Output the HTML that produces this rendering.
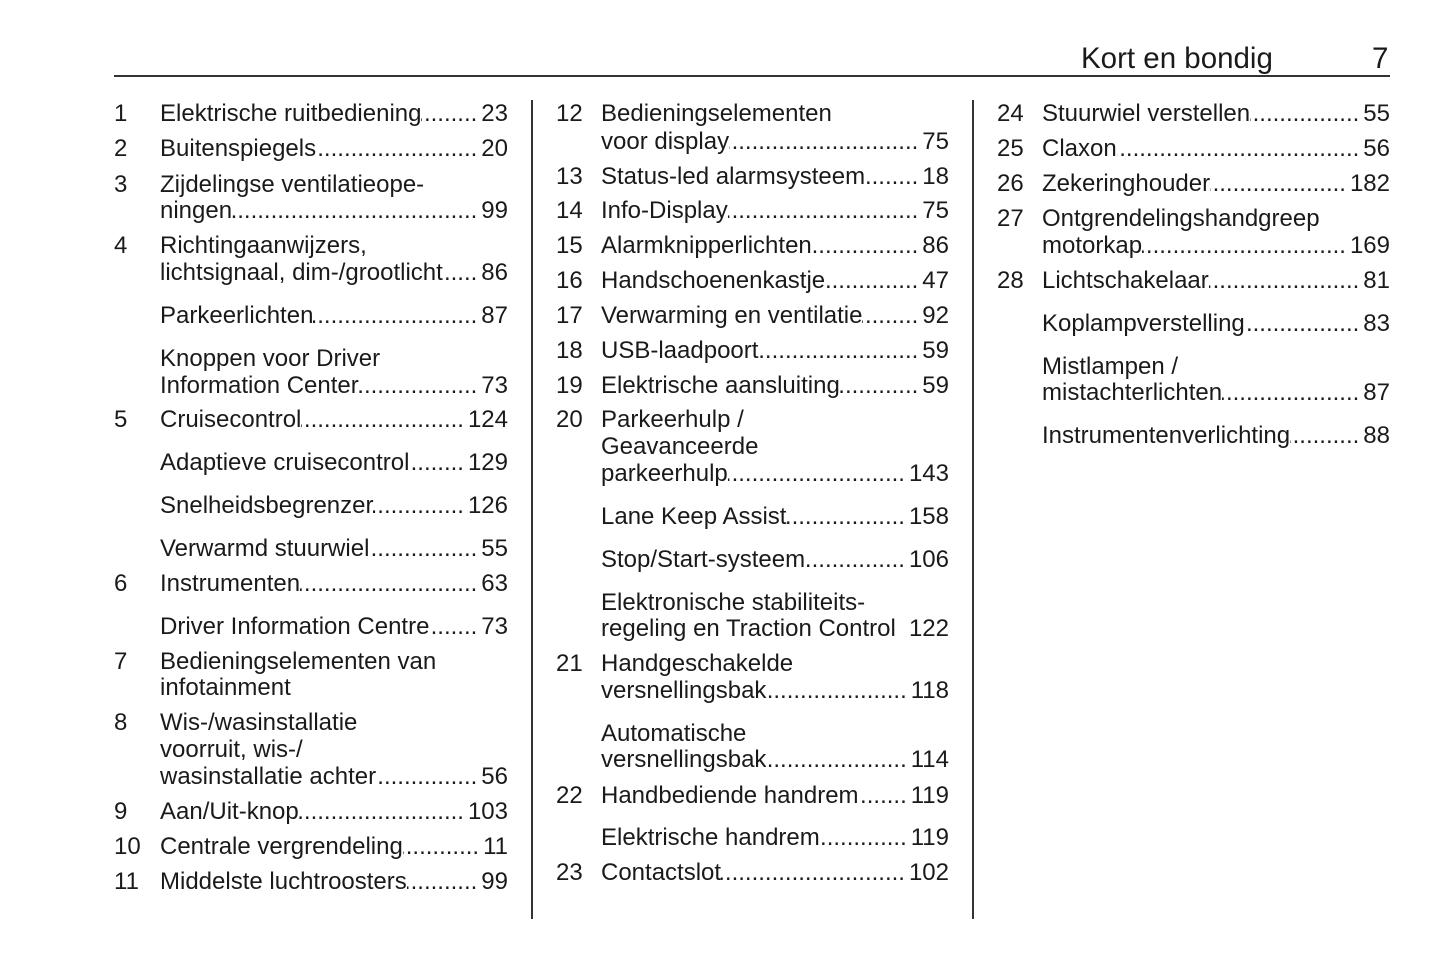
<!DOCTYPE html>
<html><head><meta charset="utf-8"><style>
body{margin:0;width:1445px;height:965px;background:#fff;position:relative;overflow:hidden;font-family:"Liberation Sans",Arial,sans-serif;color:#1a1a1a;font-size:24px}
.l{position:absolute;height:28px;line-height:30px;display:flex;white-space:nowrap}
.c1{left:160px;width:348px}.c2{left:601px;width:348px}.c3{left:1042px;width:348px}
.n{position:absolute;height:28px;line-height:30px}
.n1{left:114px}.n2{left:556px}.n3{left:997px}
.d{flex:1;overflow:hidden;padding:0 4px 0 9px;direction:rtl}
.d::before{content:"....................................................................................................................";}
.vl{position:absolute;top:100px;height:819px;width:2px;background:#333}
</style></head><body>
<div style="position:absolute;left:1081px;top:41px;font-size:29.5px;line-height:36px">Kort en bondig</div>
<div style="position:absolute;left:1372px;top:41px;font-size:29.5px;line-height:36px">7</div>
<div style="position:absolute;left:114px;top:75px;width:1276px;height:2px;background:#333"></div>
<div class="vl" style="left:531px"></div><div class="vl" style="left:972px"></div>

<div class="n n1" style="top:99px">1</div><div class="l c1" style="top:99px"><span>Elektrische ruitbediening</span><span class="d"></span><span>23</span></div>
<div class="n n1" style="top:134px">2</div><div class="l c1" style="top:134px"><span>Buitenspiegels</span><span class="d"></span><span>20</span></div>
<div class="n n1" style="top:170px">3</div><div class="l c1" style="top:170px"><span>Zijdelingse ventilatieope-</span></div>
<div class="l c1" style="top:196px"><span>ningen</span><span class="d"></span><span>99</span></div>
<div class="n n1" style="top:231px">4</div><div class="l c1" style="top:231px"><span>Richtingaanwijzers,</span></div>
<div class="l c1" style="top:258px"><span>lichtsignaal, dim-/grootlicht</span><span class="d"></span><span>86</span></div>
<div class="l c1" style="top:301px"><span>Parkeerlichten</span><span class="d"></span><span>87</span></div>
<div class="l c1" style="top:344px"><span>Knoppen voor Driver</span></div>
<div class="l c1" style="top:371px"><span>Information Center</span><span class="d"></span><span>73</span></div>
<div class="n n1" style="top:405px">5</div><div class="l c1" style="top:405px"><span>Cruisecontrol</span><span class="d"></span><span>124</span></div>
<div class="l c1" style="top:448px"><span>Adaptieve cruisecontrol</span><span class="d"></span><span>129</span></div>
<div class="l c1" style="top:491px"><span>Snelheidsbegrenzer</span><span class="d"></span><span>126</span></div>
<div class="l c1" style="top:534px"><span>Verwarmd stuurwiel</span><span class="d"></span><span>55</span></div>
<div class="n n1" style="top:569px">6</div><div class="l c1" style="top:569px"><span>Instrumenten</span><span class="d"></span><span>63</span></div>
<div class="l c1" style="top:612px"><span>Driver Information Centre</span><span class="d"></span><span>73</span></div>
<div class="n n1" style="top:647px">7</div><div class="l c1" style="top:647px"><span>Bedieningselementen van</span></div>
<div class="l c1" style="top:673px"><span>infotainment</span></div>
<div class="n n1" style="top:708px">8</div><div class="l c1" style="top:708px"><span>Wis-/wasinstallatie</span></div>
<div class="l c1" style="top:735px"><span>voorruit, wis-/</span></div>
<div class="l c1" style="top:762px"><span>wasinstallatie achter</span><span class="d"></span><span>56</span></div>
<div class="n n1" style="top:797px">9</div><div class="l c1" style="top:797px"><span>Aan/Uit-knop</span><span class="d"></span><span>103</span></div>
<div class="n n1" style="top:832px">10</div><div class="l c1" style="top:832px"><span>Centrale vergrendeling</span><span class="d"></span><span>11</span></div>
<div class="n n1" style="top:867px">11</div><div class="l c1" style="top:867px"><span>Middelste luchtroosters</span><span class="d"></span><span>99</span></div>

<div class="n n2" style="top:99px">12</div><div class="l c2" style="top:99px"><span>Bedieningselementen</span></div>
<div class="l c2" style="top:127px"><span>voor display</span><span class="d"></span><span>75</span></div>
<div class="n n2" style="top:162px">13</div><div class="l c2" style="top:162px"><span>Status-led alarmsysteem</span><span class="d"></span><span>18</span></div>
<div class="n n2" style="top:196px">14</div><div class="l c2" style="top:196px"><span>Info-Display</span><span class="d"></span><span>75</span></div>
<div class="n n2" style="top:231px">15</div><div class="l c2" style="top:231px"><span>Alarmknipperlichten</span><span class="d"></span><span>86</span></div>
<div class="n n2" style="top:266px">16</div><div class="l c2" style="top:266px"><span>Handschoenenkastje</span><span class="d"></span><span>47</span></div>
<div class="n n2" style="top:301px">17</div><div class="l c2" style="top:301px"><span>Verwarming en ventilatie</span><span class="d"></span><span>92</span></div>
<div class="n n2" style="top:336px">18</div><div class="l c2" style="top:336px"><span>USB-laadpoort</span><span class="d"></span><span>59</span></div>
<div class="n n2" style="top:371px">19</div><div class="l c2" style="top:371px"><span>Elektrische aansluiting</span><span class="d"></span><span>59</span></div>
<div class="n n2" style="top:405px">20</div><div class="l c2" style="top:405px"><span>Parkeerhulp /</span></div>
<div class="l c2" style="top:432px"><span>Geavanceerde</span></div>
<div class="l c2" style="top:459px"><span>parkeerhulp</span><span class="d"></span><span>143</span></div>
<div class="l c2" style="top:502px"><span>Lane Keep Assist</span><span class="d"></span><span>158</span></div>
<div class="l c2" style="top:545px"><span>Stop/Start-systeem</span><span class="d"></span><span>106</span></div>
<div class="l c2" style="top:588px"><span>Elektronische stabiliteits-</span></div>
<div class="l c2" style="top:614px;justify-content:space-between"><span>regeling en Traction Control</span><span>122</span></div>
<div class="n n2" style="top:649px">21</div><div class="l c2" style="top:649px"><span>Handgeschakelde</span></div>
<div class="l c2" style="top:676px"><span>versnellingsbak</span><span class="d"></span><span>118</span></div>
<div class="l c2" style="top:719px"><span>Automatische</span></div>
<div class="l c2" style="top:745px"><span>versnellingsbak</span><span class="d"></span><span>114</span></div>
<div class="n n2" style="top:781px">22</div><div class="l c2" style="top:781px"><span>Handbediende handrem</span><span class="d"></span><span>119</span></div>
<div class="l c2" style="top:823px"><span>Elektrische handrem</span><span class="d"></span><span>119</span></div>
<div class="n n2" style="top:858px">23</div><div class="l c2" style="top:858px"><span>Contactslot</span><span class="d"></span><span>102</span></div>

<div class="n n3" style="top:99px">24</div><div class="l c3" style="top:99px"><span>Stuurwiel verstellen</span><span class="d"></span><span>55</span></div>
<div class="n n3" style="top:134px">25</div><div class="l c3" style="top:134px"><span>Claxon</span><span class="d"></span><span>56</span></div>
<div class="n n3" style="top:169px">26</div><div class="l c3" style="top:169px"><span>Zekeringhouder</span><span class="d"></span><span>182</span></div>
<div class="n n3" style="top:204px">27</div><div class="l c3" style="top:204px"><span>Ontgrendelingshandgreep</span></div>
<div class="l c3" style="top:231px"><span>motorkap</span><span class="d"></span><span>169</span></div>
<div class="n n3" style="top:266px">28</div><div class="l c3" style="top:266px"><span>Lichtschakelaar</span><span class="d"></span><span>81</span></div>
<div class="l c3" style="top:309px"><span>Koplampverstelling</span><span class="d"></span><span>83</span></div>
<div class="l c3" style="top:352px"><span>Mistlampen /</span></div>
<div class="l c3" style="top:378px"><span>mistachterlichten</span><span class="d"></span><span>87</span></div>
<div class="l c3" style="top:421px"><span>Instrumentenverlichting</span><span class="d"></span><span>88</span></div>
</body></html>
